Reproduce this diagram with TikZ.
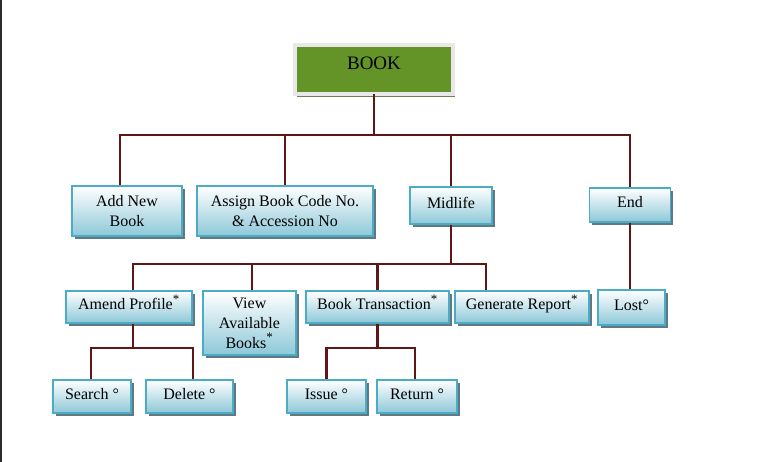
\documentclass[tikz,border=0pt]{standalone}
\usepackage{fontspec}
\setmainfont{Liberation Serif}
\usetikzlibrary{shadows,calc}
\definecolor{conc}{RGB}{95,22,22}
\definecolor{bookgreen}{RGB}{100,148,40}
\definecolor{bookrim}{RGB}{232,232,232}
\definecolor{bookshadow}{RGB}{110,127,90}
\definecolor{boxborder}{RGB}{75,172,198}
\definecolor{boxbottom}{RGB}{141,200,216}
\definecolor{boxshadow}{RGB}{95,120,130}
\definecolor{edgec}{RGB}{45,45,45}
\newcommand{\supstar}{\textsuperscript{\fontsize{13}{13}\selectfont *}}
\begin{document}
\begin{tikzpicture}[x=1pt,y=-1pt,
  bluebox/.style={draw=boxborder, line width=1.2pt, top color=white, bottom color=boxbottom,
    drop shadow={shadow xshift=2.5pt, shadow yshift=-3pt, fill=boxshadow, opacity=1},
    inner sep=0pt, font=\fontsize{16}{20}\selectfont, align=center},
  oneline/.style={bluebox, text height=11pt, text depth=5.5pt},
  twoline/.style={bluebox},
  bookbox/.style={draw=bookrim, line width=3.4pt, fill=bookgreen,
    drop shadow={shadow xshift=2pt, shadow yshift=-3pt, fill=bookshadow, opacity=1},
    inner sep=0pt, font=\fontsize{19}{22}\selectfont, text height=13pt, text depth=12.5pt},
  con/.style={draw=conc, line width=2.2pt, line join=miter}]
\useasboundingbox (0,0) rectangle (760,462);
\fill[edgec] (0,0) rectangle (1.5,462);

% nodes
\node[bookbox, minimum width=158pt, minimum height=49pt] (book) at (374,69.5) {BOOK};

\node[twoline, minimum width=110pt, minimum height=50pt] (add) at (127,211) {Add New\\Book};
\node[twoline, minimum width=176pt, minimum height=50pt] (assign) at (285,211) {Assign Book Code No.\\\& Accession No};
\node[oneline, minimum width=82pt, minimum height=37pt] (mid) at (451,205.5) {Midlife};
\node[oneline, minimum width=81pt, minimum height=34pt] (end) at (630,205) {End};

\node[oneline, minimum width=126pt, minimum height=32pt] (amend) at (129,307) {Amend Profile\supstar};
\node[twoline, minimum width=93pt, minimum height=64pt] (view) at (249.5,323) {View\\Available\\Books\supstar};
\node[oneline, minimum width=143pt, minimum height=32pt] (bt) at (377.5,307) {Book Transaction\supstar};
\node[oneline, minimum width=134pt, minimum height=32pt] (gen) at (522,307) {Generate Report\supstar};
\node[oneline, minimum width=67pt, minimum height=35pt] (lost) at (631.5,307.5) {Lost°};

\node[oneline, minimum width=78pt, minimum height=33pt] (search) at (92,396.5) {Search °};
\node[oneline, minimum width=87pt, minimum height=33pt] (delete) at (189.5,396.5) {Delete °};
\node[oneline, minimum width=79pt, minimum height=33pt] (issue) at (326.5,396.5) {Issue °};
\node[oneline, minimum width=80pt, minimum height=33pt] (return) at (417,396.5) {Return °};

% buses
\coordinate (bus1) at (0,135);
\coordinate (bus2) at (0,264);
\coordinate (bus3) at (0,348);

% level 1
\draw[con] ([yshift=1.5pt]book.south) -- (book.south |- bus1);
\draw[con] ([xshift=-7pt]add.north) -- ([xshift=-7pt]add.north |- bus1) -- (end.north |- bus1) -- (end.north);
\draw[con] (assign.north) -- (assign.north |- bus1);
\draw[con] (mid.north) -- (mid.north |- bus1);

% level 2
\draw[con] (mid.south) -- (mid.south |- bus2);
\draw[con] ([xshift=4pt]amend.north) -- ([xshift=4pt]amend.north |- bus2) -- ([xshift=-36pt]gen.north |- bus2) -- ([xshift=-36pt]gen.north);
\draw[con] ([xshift=2.5pt]view.north) -- ([xshift=2.5pt]view.north |- bus2);
\draw[con] (bt.north) -- (bt.north |- bus2);
\draw[con] (end.south) -- (end.south |- lost.north);

% level 3
\draw[con] ([xshift=4pt]amend.south) -- ([xshift=4pt]amend.south |- bus3);
\draw[con] ([xshift=-1pt]search.north) -- ([xshift=-1pt]search.north |- bus3) -- ([xshift=3.5pt]delete.north |- bus3) -- ([xshift=3.5pt]delete.north);
\draw[con] (bt.south) -- (bt.south |- bus3);
\draw[con] (issue.north) -- (issue.north |- bus3) -- ([xshift=-2pt]return.north |- bus3) -- ([xshift=-2pt]return.north);
\end{tikzpicture}
\end{document}
